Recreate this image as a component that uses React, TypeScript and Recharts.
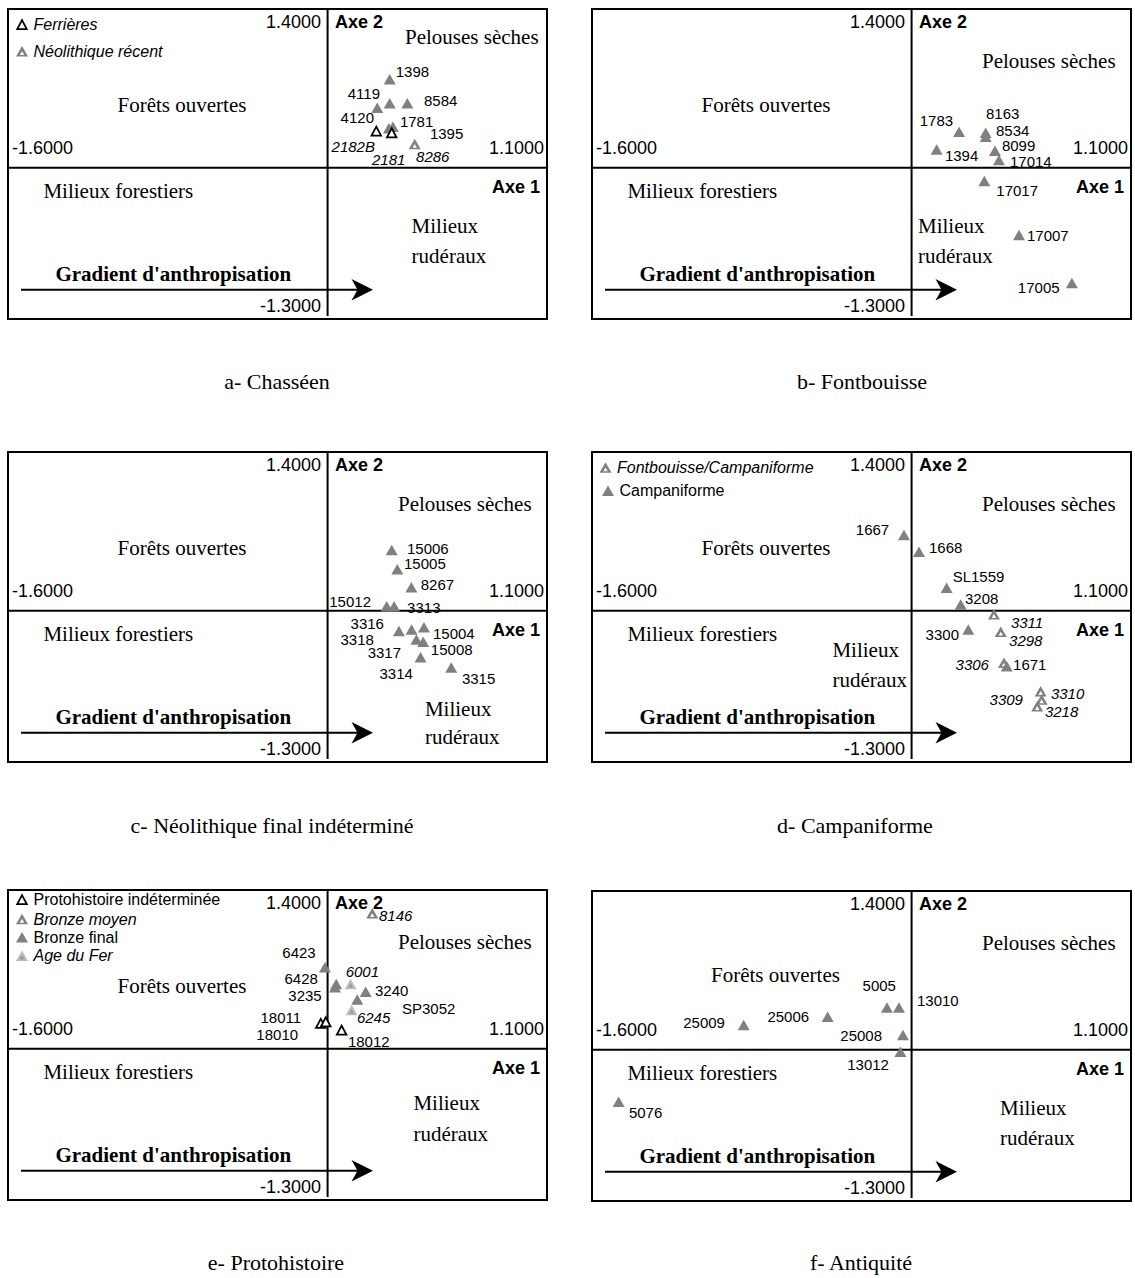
import React from 'react';
import { ScatterChart, Scatter, XAxis, YAxis, ReferenceLine } from 'recharts';

// [site, axe 1, axe 2]
type Pt = [string, number, number];

// a- Chasséen
const chasseen: Pt[] = [
  ['1398', 0.31, 0.775],
  ['4119', 0.31, 0.564],
  ['4120', 0.248, 0.525],
  ['8584', 0.398, 0.564],
  ['1781', 0.326, 0.359],
  ['1395', 0.306, 0.345],
];
const neoRecent: Pt[] = [['8286', 0.435, 0.207]];
const ferrieres: Pt[] = [
  ['2182B', 0.243, 0.321],
  ['2181', 0.32, 0.306],
];

// b- Fontbouisse
const fontbouisse: Pt[] = [
  ['1783', 0.237, 0.315],
  ['8163', 0.37, 0.306],
  ['8534', 0.37, 0.271],
  ['1394', 0.125, 0.16],
  ['8099', 0.416, 0.148],
  ['17014', 0.436, 0.067],
  ['17017', 0.363, -0.117],
  ['17007', 0.536, -0.59],
  ['17005', 0.8, -1.01],
];

// c- Néolithique final indéterminé
const neoFinal: Pt[] = [
  ['15006', 0.32, 0.532],
  ['15005', 0.348, 0.363],
  ['8267', 0.418, 0.205],
  ['15012', 0.295, 0.04],
  ['3313', 0.332, 0.04],
  ['3316', 0.356, -0.179],
  ['3318', 0.419, -0.164],
  ['3317', 0.443, -0.252],
  ['15004', 0.481, -0.146],
  ['15008', 0.477, -0.273],
  ['3314', 0.464, -0.409],
  ['3315', 0.617, -0.497],
];

// d- Campaniforme
const fontCampa: Pt[] = [
  ['3311', 0.411, -0.03],
  ['3298', 0.445, -0.185],
  ['3306', 0.461, -0.457],
  ['3310', 0.644, -0.705],
  ['3309', 0.649, -0.778],
  ['3218', 0.627, -0.837],
];
const campaniforme: Pt[] = [
  ['1667', -0.038, 0.663],
  ['1668', 0.037, 0.516],
  ['SL1559', 0.175, 0.201],
  ['3208', 0.245, 0.055],
  ['3300', 0.283, -0.164],
  ['1671', 0.475, -0.486],
];

// e- Protohistoire
const protoIndet: Pt[] = [
  ['18011', -0.034, 0.222],
  ['18010', -0.009, 0.236],
  ['18012', 0.07, 0.163],
];
const bronzeMoyen: Pt[] = [['8146', 0.223, 1.187]];
const bronzeFinal: Pt[] = [
  ['6423', -0.013, 0.713],
  ['6428', 0.043, 0.567],
  ['3235', 0.037, 0.538],
  ['3240', 0.19, 0.499],
  ['SP3052', 0.148, 0.432],
];
const ageFer: Pt[] = [
  ['6001', 0.115, 0.567],
  ['6245', 0.12, 0.339],
];

// f- Antiquité
const antiquite: Pt[] = [
  ['5005', -0.123, 0.371],
  ['13010', -0.063, 0.371],
  ['25009', -0.838, 0.216],
  ['25006', -0.419, 0.289],
  ['25008', -0.043, 0.128],
  ['13012', -0.056, -0.018],
  ['5076', -1.462, -0.457],
];

const xDomain = [-1.6, 1.1];
const yDomain = [-1.3, 1.4];
const xTickLabels = ['-1.6000', '1.1000'];
const yTickLabels = ['1.4000', '-1.3000'];
const axisNames = ['Axe 1', 'Axe 2'];

const SANS = "'Liberation Sans', Arial, sans-serif";
const SERIF = "'Liberation Serif', 'Times New Roman', serif";
const GRAY = '#808080';

const W = 541; // plot width
const H = 308; // plot height (1.4 .. -1.3)
const BOX_H = 312;

type Kind = 'solid' | 'open' | 'hollow' | 'light';

// label placement next to each marker: dx, dy, anchor
const labelPos: Record<string, [number, number, 'start' | 'end']> = {
  'a:1398': [6, -7.6, 'start'],
  'a:4119': [-9.7, -10, 'end'],
  'a:4120': [-3.3, 9.6, 'end'],
  'a:8584': [16.7, -3.3, 'start'],
  'a:1781': [7, -5, 'start'],
  'a:1395': [41, 5, 'start'],
  'a:2182B': [-1.3, 15, 'end'],
  'a:2181': [-19.7, 26.6, 'start'],
  'a:8286': [1.3, 12, 'start'],

  'b:1783': [-6, -11.7, 'end'],
  'b:8163': [0.3, -19.4, 'start'],
  'b:8534': [10.3, -6.7, 'start'],
  'b:1394': [8.3, 5.7, 'start'],
  'b:8099': [7, -5, 'start'],
  'b:17014': [11, 1, 'start'],
  'b:17017': [12, 9, 'start'],
  'b:17007': [8, 0, 'start'],
  'b:17005': [-12.3, 4.3, 'end'],

  'c:15006': [15.3, -1.7, 'start'],
  'c:15005': [6.7, -6, 'start'],
  'c:8267': [9.4, -3.3, 'start'],
  'c:15012': [-15.7, -4.3, 'end'],
  'c:3313': [13, 1.3, 'start'],
  'c:3316': [-15, -7.5, 'end'],
  'c:3318': [-37.7, 9.6, 'end'],
  'c:3317': [-15.3, 12.8, 'end'],
  'c:15004': [9, 6, 'start'],
  'c:15008': [7.7, 7.6, 'start'],
  'c:3314': [-7.7, 16, 'end'],
  'c:3315': [10.7, 11, 'start'],

  'd:1667': [-14.8, -5.2, 'end'],
  'd:1668': [10, -4, 'start'],
  'd:SL1559': [6, -11, 'start'],
  'd:3208': [4.3, -6, 'start'],
  'd:3311': [17, 8.7, 'start'],
  'd:3300': [-9.3, 5, 'end'],
  'd:3298': [8.3, 8.3, 'start'],
  'd:3306': [-15, 1.3, 'end'],
  'd:1671': [6.3, -2, 'start'],
  'd:3310': [10.3, 2.3, 'start'],
  'd:3309': [-18.7, 0, 'end'],
  'd:3218': [7.7, 5.7, 'start'],

  'e:8146': [6.7, 2.4, 'start'],
  'e:6423': [-9.3, -15, 'end'],
  'e:6428': [-18.3, -5.7, 'end'],
  'e:3235': [-13.3, 7.7, 'end'],
  'e:6001': [-5, -12.3, 'start'],
  'e:3240': [9.3, -1, 'start'],
  'e:SP3052': [44.7, 9, 'start'],
  'e:6245': [5.3, 7.7, 'start'],
  'e:18011': [-19.7, -5.6, 'end'],
  'e:18010': [-27.7, 12.6, 'end'],
  'e:18012': [6.3, 11, 'start'],

  'f:5005': [9, -22.3, 'end'],
  'f:13010': [18, -6.6, 'start'],
  'f:25009': [-18.7, -2.3, 'end'],
  'f:25006': [-18.5, 0, 'end'],
  'f:25008': [-20.9, 0, 'end'],
  'f:13012': [-11.4, 12.6, 'end'],
  'f:5076': [10.3, 10.6, 'start'],
};

interface SeriesDef {
  name: string;
  pts: Pt[];
  kind: Kind;
  italic: boolean;
  legend: boolean;
}

interface Layout {
  forets: [number, number];
  pelouses: [number, number];
  rud: [number, number, number];
  legendY?: number[];
}

interface PanelDef {
  id: string;
  left: number;
  top: number;
  caption: string;
  captionX: number;
  captionY: number;
  series: SeriesDef[];
  layout: Layout;
}

const panels: PanelDef[] = [
  {
    id: 'a', left: 7, top: 8, caption: 'a- Chasséen', captionX: 277, captionY: 382,
    series: [
      { name: 'Chasséen', pts: chasseen, kind: 'solid', italic: false, legend: false },
      { name: 'Néolithique récent', pts: neoRecent, kind: 'hollow', italic: true, legend: true },
      { name: 'Ferrières', pts: ferrieres, kind: 'open', italic: true, legend: true },
    ],
    layout: { forets: [110.5, 97], pelouses: [398, 29], rud: [404.6, 217.7, 247.7], legendY: [43.3, 16.7] },
  },
  {
    id: 'b', left: 591, top: 8, caption: 'b- Fontbouisse', captionX: 862, captionY: 382,
    series: [{ name: 'Fontbouisse', pts: fontbouisse, kind: 'solid', italic: false, legend: false }],
    layout: { forets: [110.5, 97], pelouses: [391, 53], rud: [327, 218, 248.3] },
  },
  {
    id: 'c', left: 7, top: 451, caption: 'c- Néolithique final indéterminé', captionX: 272, captionY: 826,
    series: [{ name: 'Néolithique final', pts: neoFinal, kind: 'solid', italic: false, legend: false }],
    layout: { forets: [110.5, 97], pelouses: [391, 53], rud: [417.9, 257.6, 286.4] },
  },
  {
    id: 'd', left: 591, top: 451, caption: 'd- Campaniforme', captionX: 855, captionY: 826,
    series: [
      { name: 'Fontbouisse/Campaniforme', pts: fontCampa, kind: 'hollow', italic: true, legend: true },
      { name: 'Campaniforme', pts: campaniforme, kind: 'solid', italic: false, legend: true },
    ],
    layout: { forets: [110.5, 97], pelouses: [391, 53], rud: [241.4, 199.3, 229.1], legendY: [16.6, 39.7] },
  },
  {
    id: 'e', left: 7, top: 889, caption: 'e- Protohistoire', captionX: 276, captionY: 1263,
    series: [
      { name: 'Protohistoire indéterminée', pts: protoIndet, kind: 'open', italic: false, legend: true },
      { name: 'Bronze moyen', pts: bronzeMoyen, kind: 'hollow', italic: true, legend: true },
      { name: 'Bronze final', pts: bronzeFinal, kind: 'solid', italic: false, legend: true },
      { name: 'Age du Fer', pts: ageFer, kind: 'light', italic: true, legend: true },
    ],
    layout: { forets: [110.5, 97], pelouses: [391, 52.5], rud: [406.4, 214, 244.7], legendY: [10.7, 30, 48.3, 66.7] },
  },
  {
    id: 'f', left: 591, top: 890, caption: 'f- Antiquité', captionX: 861, captionY: 1263,
    series: [{ name: 'Antiquité', pts: antiquite, kind: 'solid', italic: false, legend: false }],
    layout: { forets: [120, 85], pelouses: [391, 53], rud: [409, 217.9, 247.7] },
  },
];

function tri(cx: number, cy: number, w: number, h: number) {
  return `${cx},${cy - h / 2} ${cx - w / 2},${cy + h / 2} ${cx + w / 2},${cy + h / 2}`;
}

function Marker({ kind, cx, cy }: { kind: Kind; cx: number; cy: number }) {
  if (kind === 'open') {
    return <polygon points={tri(cx, cy, 9.5, 9)} fill="#fff" stroke="#000" strokeWidth={1.8} strokeLinejoin="miter" />;
  }
  if (kind === 'hollow') {
    return (
      <g>
        <polygon points={tri(cx, cy, 12, 10.5)} fill={GRAY} />
        <polygon points={tri(cx, cy + 1.8, 4.4, 3.9)} fill="#fff" />
      </g>
    );
  }
  if (kind === 'light') {
    return (
      <g>
        <polygon points={tri(cx, cy, 12, 10.5)} fill="#bdbdbd" />
        <polygon points={tri(cx, cy + 1.5, 5.2, 4.6)} fill="#9c9c9c" />
      </g>
    );
  }
  return <polygon points={tri(cx, cy, 12, 10.5)} fill={GRAY} />;
}

function makeShape(panelId: string, s: SeriesDef) {
  return (props: any) => {
    const { cx, cy, payload } = props;
    if (cx == null || cy == null) return <g />;
    const pos = labelPos[`${panelId}:${payload.name}`] ?? [8, 0, 'start'];
    return (
      <g>
        <Marker kind={s.kind} cx={cx} cy={cy} />
        <text
          x={cx + pos[0]}
          y={cy + pos[1]}
          textAnchor={pos[2]}
          dominantBaseline="central"
          fontFamily={SANS}
          fontSize={15}
          fontStyle={s.italic ? 'italic' : 'normal'}
          fill="#000"
        >
          {payload.name}
        </text>
      </g>
    );
  };
}

function Overlay({ p }: { p: PanelDef }) {
  const ax = (W * (0 - xDomain[0])) / (xDomain[1] - xDomain[0]);
  const ay = (H * (yDomain[1] - 0)) / (yDomain[1] - yDomain[0]);
  const lay = p.layout;
  const serif = { fontFamily: SERIF, fontSize: 21, fill: '#000' };
  const tick = { fontFamily: SANS, fontSize: 18, fill: '#000' };
  const legendSeries = p.series.filter((s) => s.legend);
  const arrowY = ay + 122;
  return (
    <svg
      width={W}
      height={BOX_H}
      style={{ position: 'absolute', left: 0, top: 0, overflow: 'visible', pointerEvents: 'none' }}
    >
      <rect x={1} y={1} width={W - 2} height={BOX_H - 2} fill="none" stroke="#000" strokeWidth={2} />

      {/* tick values at the ends of both axes */}
      <text x={5} y={ay - 19.5} dominantBaseline="central" {...tick}>{xTickLabels[0]}</text>
      <text x={W - 4} y={ay - 19.5} textAnchor="end" dominantBaseline="central" {...tick}>{xTickLabels[1]}</text>
      <text x={ax - 6.5} y={13.5} textAnchor="end" dominantBaseline="central" {...tick}>{yTickLabels[0]}</text>
      <text x={ax - 6.5} y={297.5} textAnchor="end" dominantBaseline="central" {...tick}>{yTickLabels[1]}</text>
      <text x={ax + 7.5} y={13.5} dominantBaseline="central" {...tick} fontWeight="bold">{axisNames[1]}</text>
      <text x={W - 8} y={ay + 19.5} textAnchor="end" dominantBaseline="central" {...tick} fontWeight="bold">{axisNames[0]}</text>

      {/* zones */}
      <text x={lay.forets[0]} y={lay.forets[1]} dominantBaseline="central" {...serif}>Forêts ouvertes</text>
      <text x={lay.pelouses[0]} y={lay.pelouses[1]} dominantBaseline="central" {...serif}>Pelouses sèches</text>
      <text x={36.4} y={ay + 23} dominantBaseline="central" {...serif}>Milieux forestiers</text>
      <text x={lay.rud[0]} y={lay.rud[1]} dominantBaseline="central" {...serif}>Milieux</text>
      <text x={lay.rud[0]} y={lay.rud[2]} dominantBaseline="central" {...serif}>rudéraux</text>

      {/* gradient arrow */}
      <text x={48.4} y={ay + 106.5} dominantBaseline="central" {...serif} fontWeight="bold">
        Gradient d'anthropisation
      </text>
      <line x1={14} y1={arrowY} x2={352} y2={arrowY} stroke="#000" strokeWidth={2} />
      <polygon
        points={`${366},${arrowY} ${344.5},${arrowY - 10.8} ${350.5},${arrowY} ${344.5},${arrowY + 10.8}`}
        fill="#000"
      />

      {/* legend */}
      {legendSeries.map((s, i) => {
        const y = lay.legendY ? lay.legendY[i] : 16 + i * 20;
        const mx = p.id === 'd' ? 14.5 + i * 2.5 : 15;
        return (
          <g key={s.name}>
            <Marker kind={s.kind} cx={mx} cy={y} />
            <text
              x={mx + 11.5}
              y={y}
              dominantBaseline="central"
              fontFamily={SANS}
              fontSize={16}
              fontStyle={s.italic ? 'italic' : 'normal'}
              fill="#000"
            >
              {s.name}
            </text>
          </g>
        );
      })}
    </svg>
  );
}

function Panel({ p }: { p: PanelDef }) {
  return (
    <div style={{ position: 'absolute', left: p.left, top: p.top, width: W, height: BOX_H }}>
      <ScatterChart width={W} height={H} margin={{ top: 0, right: 0, bottom: 0, left: 0 }}>
        <XAxis type="number" dataKey="x" domain={xDomain} allowDataOverflow hide />
        <YAxis type="number" dataKey="y" domain={yDomain} allowDataOverflow hide />
        <ReferenceLine y={0} stroke="#000" strokeWidth={2} />
        <ReferenceLine
          segment={[{ x: 0, y: yDomain[1] }, { x: 0, y: yDomain[0] - 0.04 }]}
          ifOverflow="visible"
          stroke="#000"
          strokeWidth={2}
        />
        {p.series.map((s) => (
          <Scatter
            key={s.name}
            name={s.name}
            data={s.pts.map(([name, x, y]) => ({ name, x, y }))}
            shape={makeShape(p.id, s)}
            isAnimationActive={false}
          />
        ))}
      </ScatterChart>
      <Overlay p={p} />
    </div>
  );
}

export default function App() {
  return (
    <div
      style={{
        position: 'absolute',
        left: 0,
        top: 0,
        width: 1135,
        height: 1278,
        background: '#fff',
        overflow: 'hidden',
      }}
    >
      {panels.map((p) => (
        <Panel key={p.id} p={p} />
      ))}
      {panels.map((p) => (
        <div
          key={`cap-${p.id}`}
          style={{
            position: 'absolute',
            left: p.captionX - 250,
            top: p.captionY - 14,
            width: 500,
            height: 28,
            lineHeight: '28px',
            textAlign: 'center',
            fontFamily: SERIF,
            fontSize: 22,
            color: '#000',
          }}
        >
          {p.caption}
        </div>
      ))}
    </div>
  );
}
